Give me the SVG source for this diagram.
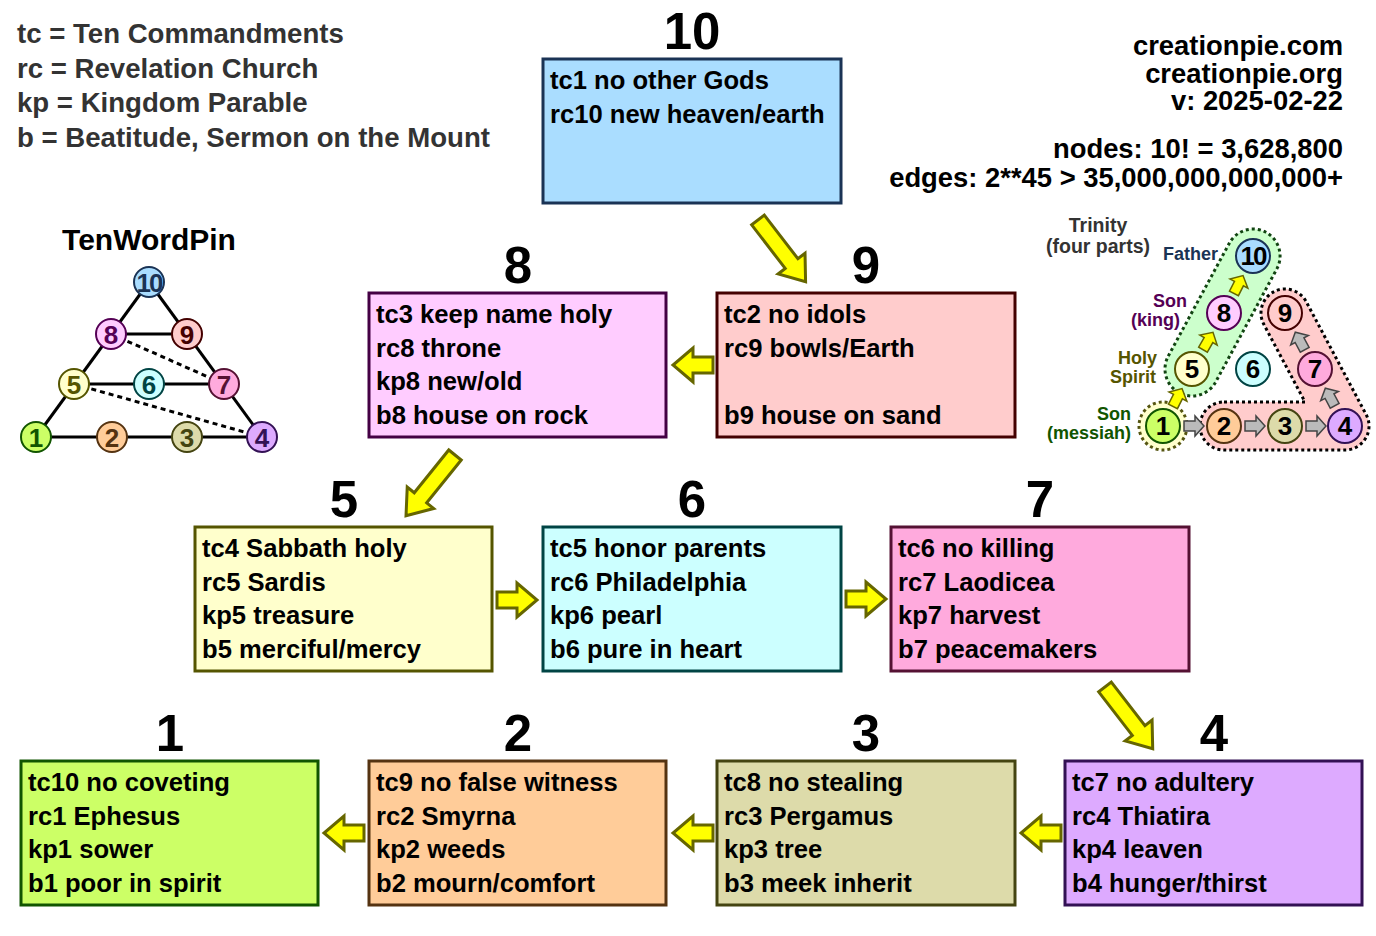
<svg xmlns="http://www.w3.org/2000/svg" width="1376" height="936" viewBox="0 0 1376 936">
<style>
text{font-family:"Liberation Sans",Arial,Helvetica,sans-serif;font-weight:bold}
.bt{font-size:25.6px;fill:#000}
.num{font-size:51px;fill:#000;text-anchor:middle}
.leg{font-size:27.6px;fill:#333}
.tr{font-size:27.4px;fill:#000;text-anchor:end}
.box{stroke-width:3}
.big{fill:#ffff00;stroke:#666600;stroke-width:3;stroke-linejoin:miter}
.pl{stroke:#000;stroke-width:3;fill:none}
.pd{stroke:#000;stroke-width:3;fill:none;stroke-dasharray:5 4}
.pc{stroke-width:2}
.pn{font-size:26px;text-anchor:middle}
.tc{stroke-width:2}
.tn{font-size:26px;text-anchor:middle;fill:#000}
.sg{fill:#bbbbbb;stroke:#444444;stroke-width:1.5}
.sy{fill:#ffff00;stroke:#666600;stroke-width:1.5}
.lab{font-size:18px;text-anchor:end}
</style>
<defs>
<polygon id="ha" points="0,-8 20,-8 20,-17 40,0 20,17 20,8 0,8"/>
<polygon id="da" points="0,-8 55,-8 55,-17 78,0 55,17 55,8 0,8"/>
<polygon id="sa" points="-10,-5 1,-5 1,-10 10,0 1,10 1,5 -10,5"/>
</defs>
<rect width="1376" height="936" fill="#ffffff"/>

<g id="legend">
<text class="leg" x="17" y="43">tc = Ten Commandments</text>
<text class="leg" x="17" y="78">rc = Revelation Church</text>
<text class="leg" x="17" y="112">kp = Kingdom Parable</text>
<text class="leg" x="17" y="147">b = Beatitude, Sermon on the Mount</text>
</g>

<g id="info">
<text class="tr" x="1343" y="55">creationpie.com</text>
<text class="tr" x="1343" y="83">creationpie.org</text>
<text class="tr" x="1343" y="110">v: 2025-02-22</text>
<text class="tr" x="1343" y="158">nodes: 10! = 3,628,800</text>
<text class="tr" x="1343" y="187">edges: 2**45 &gt; 35,000,000,000,000+</text>
</g>

<g id="tenwordpin">
<text x="149" y="250" style="font-size:30px;text-anchor:middle;fill:#000">TenWordPin</text>
<line class="pl" x1="149" y1="282" x2="36" y2="437"/>
<line class="pl" x1="149" y1="282" x2="262" y2="437"/>
<line class="pl" x1="111" y1="334" x2="187" y2="334"/>
<line class="pl" x1="74" y1="384" x2="224" y2="384"/>
<line class="pl" x1="36" y1="437" x2="262" y2="437"/>
<line class="pd" x1="111" y1="334" x2="224" y2="384"/>
<line class="pd" x1="74" y1="384" x2="262" y2="437"/>
<circle class="pc" cx="149" cy="282" r="15" fill="#aaddff" stroke="#1a3355"/>
<circle class="pc" cx="111" cy="334" r="15" fill="#ffccff" stroke="#550055"/>
<circle class="pc" cx="187" cy="334" r="15" fill="#ffcccc" stroke="#440000"/>
<circle class="pc" cx="74" cy="384" r="15" fill="#ffffcc" stroke="#555500"/>
<circle class="pc" cx="149" cy="384" r="15" fill="#ccffff" stroke="#004444"/>
<circle class="pc" cx="224" cy="384" r="15" fill="#ffaadd" stroke="#551133"/>
<circle class="pc" cx="36" cy="437" r="15" fill="#ccff66" stroke="#115500"/>
<circle class="pc" cx="112" cy="437" r="15" fill="#ffcc99" stroke="#553311"/>
<circle class="pc" cx="187" cy="437" r="15" fill="#dddbaa" stroke="#444411"/>
<circle class="pc" cx="262" cy="437" r="15" fill="#ddaaff" stroke="#331155"/>
<text class="pn" x="149" y="292" fill="#1a3355" style="letter-spacing:-2px">10</text>
<text class="pn" x="111" y="344" fill="#550055">8</text>
<text class="pn" x="187" y="344" fill="#440000">9</text>
<text class="pn" x="74" y="394" fill="#555500">5</text>
<text class="pn" x="149" y="394" fill="#004444">6</text>
<text class="pn" x="224" y="394" fill="#551133">7</text>
<text class="pn" x="36" y="447" fill="#115500">1</text>
<text class="pn" x="112" y="447" fill="#553311">2</text>
<text class="pn" x="187" y="447" fill="#444411">3</text>
<text class="pn" x="262" y="447" fill="#331155">4</text>
</g>

<g id="trinity">
<text x="1098" y="232" style="font-size:19.5px;text-anchor:middle;fill:#333">Trinity</text>
<text x="1098" y="253" style="font-size:19.5px;text-anchor:middle;fill:#333">(four parts)</text>
<text class="lab" x="1218" y="260" fill="#1a3355">Father</text>
<text class="lab" x="1187" y="307" fill="#550055">Son</text>
<text class="lab" x="1180" y="326" fill="#550055">(king)</text>
<text class="lab" x="1157" y="364" fill="#555500">Holy</text>
<text class="lab" x="1156" y="383" fill="#555500">Spirit</text>
<text class="lab" x="1131" y="420" fill="#115500">Son</text>
<text class="lab" x="1131" y="439" fill="#115500">(messiah)</text>
<path d="M1224,402 L1305,402 L1263.8,324.3 A24,24 0 0 1 1306.2,301.7 L1366.2,414.7 A24,24 0 0 1 1345,450 L1224,450 A24,24 0 0 1 1224,402 Z" fill="#ffcccc" stroke="#000" stroke-width="3" stroke-dasharray="3 3"/>
<rect x="-27" y="-27" width="182.4" height="54" rx="27" transform="translate(1192,369) rotate(-61.6)" fill="#ccffcc" stroke="#114411" stroke-width="3" stroke-dasharray="3 3"/>
<circle cx="1163" cy="426" r="24" fill="#ffffcc" stroke="#555511" stroke-width="3" stroke-dasharray="3 3"/>
<use href="#sa" class="sg" transform="translate(1194,426)"/>
<use href="#sa" class="sg" transform="translate(1255,426)"/>
<use href="#sa" class="sg" transform="translate(1316,426)"/>
<use href="#sa" class="sg" transform="translate(1330,397) rotate(-117.8)"/>
<use href="#sa" class="sg" transform="translate(1300,341) rotate(-118)"/>
<use href="#sa" class="sy" transform="translate(1177.5,397.5) rotate(-63)"/>
<use href="#sa" class="sy" transform="translate(1208,341) rotate(-60)"/>
<use href="#sa" class="sy" transform="translate(1238.5,284.5) rotate(-63)"/>
<circle class="tc" cx="1253" cy="256" r="17" fill="#aaddff" stroke="#1a3355"/>
<circle class="tc" cx="1224" cy="313" r="17" fill="#ffccff" stroke="#550055"/>
<circle class="tc" cx="1285" cy="313" r="17" fill="#ffcccc" stroke="#440000"/>
<circle class="tc" cx="1192" cy="369" r="17" fill="#ffffcc" stroke="#555500"/>
<circle class="tc" cx="1253" cy="369" r="17" fill="#ccffff" stroke="#004444"/>
<circle class="tc" cx="1315" cy="369" r="17" fill="#ffaadd" stroke="#551133"/>
<circle class="tc" cx="1163" cy="426" r="17" fill="#ccff66" stroke="#115500"/>
<circle class="tc" cx="1224" cy="426" r="17" fill="#ffcc99" stroke="#553311"/>
<circle class="tc" cx="1285" cy="426" r="17" fill="#dddbaa" stroke="#444411"/>
<circle class="tc" cx="1345" cy="426" r="17" fill="#ddaaff" stroke="#331155"/>
<text class="tn" x="1253" y="265" style="letter-spacing:-2px">10</text>
<text class="tn" x="1224" y="322">8</text>
<text class="tn" x="1285" y="322">9</text>
<text class="tn" x="1192" y="378">5</text>
<text class="tn" x="1253" y="378">6</text>
<text class="tn" x="1315" y="378">7</text>
<text class="tn" x="1163" y="435">1</text>
<text class="tn" x="1224" y="435">2</text>
<text class="tn" x="1285" y="435">3</text>
<text class="tn" x="1345" y="435">4</text>
</g>

<g id="connectors">
<use href="#da" class="big" transform="translate(758,220) rotate(52.4)"/>
<use href="#ha" class="big" transform="translate(713,365) rotate(180)"/>
<use href="#da" class="big" transform="translate(455,455) rotate(128.9)"/>
<use href="#ha" class="big" transform="translate(497,600)"/>
<use href="#ha" class="big" transform="translate(846,599)"/>
<use href="#da" class="big" transform="translate(1105,687) rotate(52.3)"/>
<use href="#ha" class="big" transform="translate(1061,833) rotate(180)"/>
<use href="#ha" class="big" transform="translate(713,833) rotate(180)"/>
<use href="#ha" class="big" transform="translate(364,833) rotate(180)"/>
</g>

<g id="node-10">
<text class="num" x="692" y="49">10</text>
<rect class="box" x="543" y="59" width="298" height="144" fill="#aaddff" stroke="#1a3355"/>
<text class="bt" x="550" y="89">tc1 no other Gods</text>
<text class="bt" x="550" y="123">rc10 new heaven/earth</text>
</g>

<g id="node-9">
<text class="num" x="866" y="283">9</text>
<rect class="box" x="717" y="293" width="298" height="144" fill="#ffcccc" stroke="#440000"/>
<text class="bt" x="724" y="323">tc2 no idols</text>
<text class="bt" x="724" y="357">rc9 bowls/Earth</text>
<text class="bt" x="724" y="424">b9 house on sand</text>
</g>

<g id="node-8">
<text class="num" x="518" y="283">8</text>
<rect class="box" x="369" y="293" width="297" height="144" fill="#ffccff" stroke="#440044"/>
<text class="bt" x="376" y="323">tc3 keep name holy</text>
<text class="bt" x="376" y="357">rc8 throne</text>
<text class="bt" x="376" y="390">kp8 new/old</text>
<text class="bt" x="376" y="424">b8 house on rock</text>
</g>

<g id="node-5">
<text class="num" x="344" y="517">5</text>
<rect class="box" x="195" y="527" width="297" height="144" fill="#ffffcc" stroke="#555500"/>
<text class="bt" x="202" y="557">tc4 Sabbath holy</text>
<text class="bt" x="202" y="591">rc5 Sardis</text>
<text class="bt" x="202" y="624">kp5 treasure</text>
<text class="bt" x="202" y="658">b5 merciful/mercy</text>
</g>

<g id="node-6">
<text class="num" x="692" y="517">6</text>
<rect class="box" x="543" y="527" width="298" height="144" fill="#ccffff" stroke="#004444"/>
<text class="bt" x="550" y="557">tc5 honor parents</text>
<text class="bt" x="550" y="591">rc6 Philadelphia</text>
<text class="bt" x="550" y="624">kp6 pearl</text>
<text class="bt" x="550" y="658">b6 pure in heart</text>
</g>

<g id="node-7">
<text class="num" x="1040" y="517">7</text>
<rect class="box" x="891" y="527" width="298" height="144" fill="#ffaadd" stroke="#551133"/>
<text class="bt" x="898" y="557">tc6 no killing</text>
<text class="bt" x="898" y="591">rc7 Laodicea</text>
<text class="bt" x="898" y="624">kp7 harvest</text>
<text class="bt" x="898" y="658">b7 peacemakers</text>
</g>

<g id="node-1">
<text class="num" x="170" y="751">1</text>
<rect class="box" x="21" y="761" width="297" height="144" fill="#ccff66" stroke="#115500"/>
<text class="bt" x="28" y="791">tc10 no coveting</text>
<text class="bt" x="28" y="825">rc1 Ephesus</text>
<text class="bt" x="28" y="858">kp1 sower</text>
<text class="bt" x="28" y="892">b1 poor in spirit</text>
</g>

<g id="node-2">
<text class="num" x="518" y="751">2</text>
<rect class="box" x="369" y="761" width="297" height="144" fill="#ffcc99" stroke="#553311"/>
<text class="bt" x="376" y="791">tc9 no false witness</text>
<text class="bt" x="376" y="825">rc2 Smyrna</text>
<text class="bt" x="376" y="858">kp2 weeds</text>
<text class="bt" x="376" y="892">b2 mourn/comfort</text>
</g>

<g id="node-3">
<text class="num" x="866" y="751">3</text>
<rect class="box" x="717" y="761" width="298" height="144" fill="#dddbaa" stroke="#444411"/>
<text class="bt" x="724" y="791">tc8 no stealing</text>
<text class="bt" x="724" y="825">rc3 Pergamus</text>
<text class="bt" x="724" y="858">kp3 tree</text>
<text class="bt" x="724" y="892">b3 meek inherit</text>
</g>

<g id="node-4">
<text class="num" x="1214" y="751">4</text>
<rect class="box" x="1065" y="761" width="297" height="144" fill="#ddaaff" stroke="#331155"/>
<text class="bt" x="1072" y="791">tc7 no adultery</text>
<text class="bt" x="1072" y="825">rc4 Thiatira</text>
<text class="bt" x="1072" y="858">kp4 leaven</text>
<text class="bt" x="1072" y="892">b4 hunger/thirst</text>
</g>
</svg>
